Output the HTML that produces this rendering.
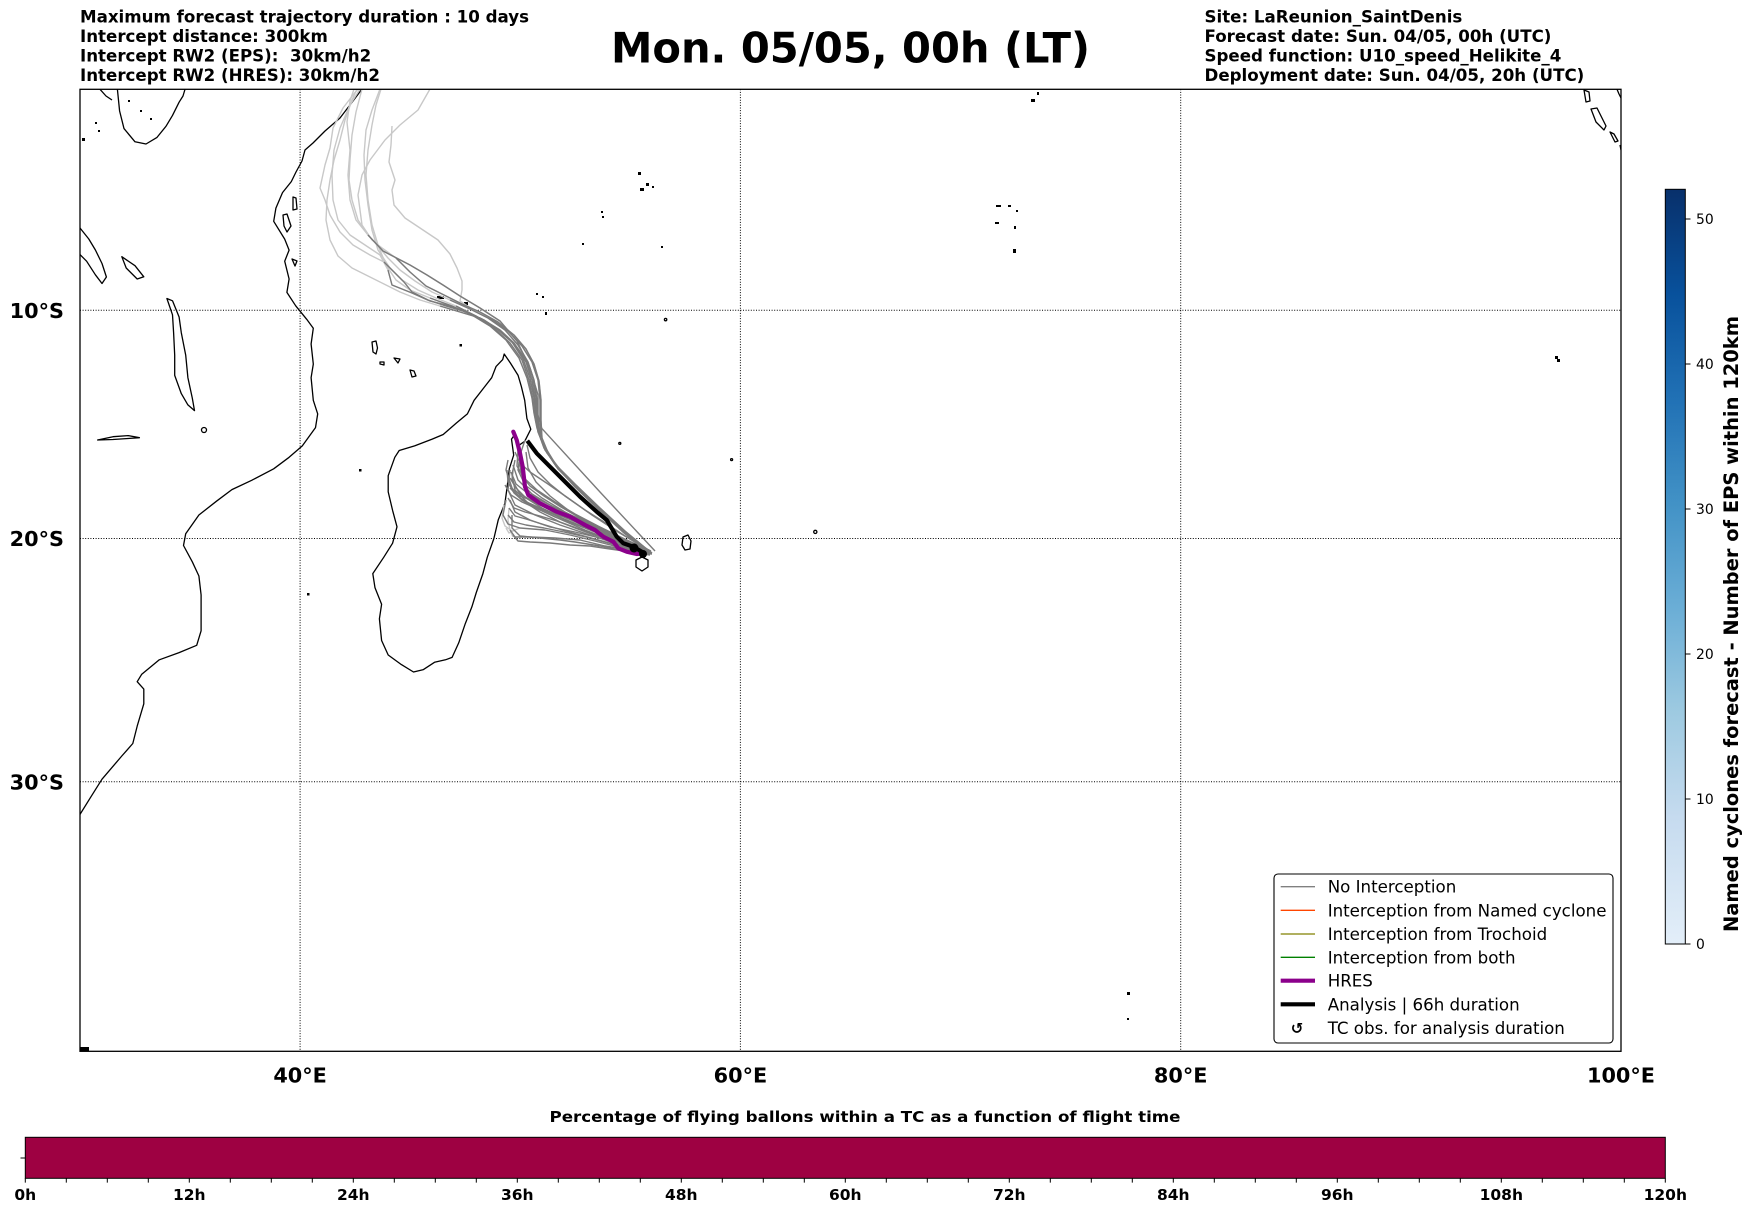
<!DOCTYPE html>
<html><head><meta charset="utf-8"><style>
html,body{margin:0;padding:0;background:#fff;}
svg{display:block;}
text{font-family:"DejaVu Sans","Liberation Sans",sans-serif;fill:#000;}
.b{font-weight:bold;}
</style></head><body>
<svg width="1752" height="1213" viewBox="0 0 1752 1213" xmlns="http://www.w3.org/2000/svg">
<defs>
<linearGradient id="blues" x1="0" y1="1" x2="0" y2="0">
<stop offset="0" stop-color="#e3eef9"/>
<stop offset="0.028" stop-color="#deebf7"/>
<stop offset="0.167" stop-color="#c6dbef"/>
<stop offset="0.306" stop-color="#9ecae1"/>
<stop offset="0.444" stop-color="#6baed6"/>
<stop offset="0.583" stop-color="#4292c6"/>
<stop offset="0.722" stop-color="#2171b5"/>
<stop offset="0.861" stop-color="#08519c"/>
<stop offset="1" stop-color="#08306b"/>
</linearGradient>
<clipPath id="mapclip"><rect x="80" y="89.3" width="1541" height="962"/></clipPath>
</defs>
<rect width="1752" height="1213" fill="#fff"/>

<!-- header texts -->
<g class="b" font-size="16.67" style="white-space:pre">
<text x="80" y="22.5" font-weight="bold">Maximum forecast trajectory duration : 10 days</text>
<text x="80" y="42" font-weight="bold">Intercept distance: 300km</text>
<text x="80" y="61.5" font-weight="bold" xml:space="preserve">Intercept RW2 (EPS):  30km/h2</text>
<text x="80" y="81" font-weight="bold">Intercept RW2 (HRES): 30km/h2</text>
<text x="1204.5" y="22.5" font-weight="bold">Site: LaReunion_SaintDenis</text>
<text x="1204.5" y="42" font-weight="bold">Forecast date: Sun. 04/05, 00h (UTC)</text>
<text x="1204.5" y="61.5" font-weight="bold">Speed function: U10_speed_Helikite_4</text>
<text x="1204.5" y="81" font-weight="bold">Deployment date: Sun. 04/05, 20h (UTC)</text>
</g>
<text x="611" y="62.3" font-size="41.67" font-weight="bold" textLength="479" lengthAdjust="spacingAndGlyphs">Mon. 05/05, 00h (LT)</text>

<!-- map content -->
<g clip-path="url(#mapclip)">
<g fill="none" stroke="#000" stroke-width="1.3" stroke-linejoin="round">
<path d="M361.8,89.3 L353,101 L340,118 L325,131 L313,143 L305,150 L302,161 L296,172 L291.3,181.6 L282.5,192.6 L275.9,208.1 L273.7,221.3 L284.7,239.1 L289.1,250.1 L284.7,261.2 L289.1,279 L286.9,292.4 L295.7,305.8 L306.7,319.3 L313.3,328.2 L311.1,344 L313.3,364.1 L311.1,377.7 L313.3,400.3 L317.7,413.9 L315.5,427.6 L302.3,445.9 L289.1,457.3 L273.7,468.8 L251.7,480.3 L231.9,489.6 L216.5,501.2 L198.9,515 L185.7,533.8 L183.5,545.5 L192.3,561.8 L198.9,576 L201.1,594.9 L201.1,616.4 L201.1,630.8 L196.7,645.3 L179.1,652.6 L159.3,659.8 L141.6,674.4 L137.2,681.7 L143.8,689.1 L143.8,703.8 L137.2,726.1 L132.8,743.5 L121.8,756 L102,779.2 L91,796.7 L80,814.4"/>
<path d="M504.2,354 L510.3,362.9 L518.1,375.4 L521.4,386.7 L524.7,400.3 L526.9,418.5 L530.8,429.2 L524.7,441.3 L518.1,445.9 L514.8,434.5 L511.5,439.1 L513.7,455.1 L509.3,468.8 L507.1,487.3 L504.9,503.4 L498.3,519.7 L493.9,538.5 L487.3,557.2 L482.9,573.6 L476.3,592.5 L471.9,606.8 L465.3,623.6 L458.7,642.9 L452.1,657.4 L445.5,659.8 L434.5,662.3 L423.4,669.6 L413.5,672 L401.4,664.6 L388.2,655 L381.6,640.5 L379.4,618.8 L381.6,604.3 L375,587.8 L372.8,573.6 L383.8,557.2 L392.6,543.2 L397,526.8 L392.6,510.4 L388.2,491.9 L388.2,475.7 L394.8,457.3 L399.2,450.5 L414.6,445.9 L432.2,439.1 L443.2,434.5 L456.4,423 L467.4,413.9 L474.1,400.3 L482.9,389 L491.7,377.7 L496.1,366.4 L502.7,359.6 Z"/>
<path d="M117.4,89.3 L119.6,111 L124,128.6 L135,141.8 L146,144 L157,137.4 L165.9,126.4 L172.5,115.4 L179.1,102.2 L183,96 L185,89.3"/>
<path d="M100,89.3 L106,96 L112,100"/>
<path d="M80,228 L88.8,239 L95.4,250 L102,263.5 L106.4,277 L102,283.5 L95.4,274.8 L86.6,261.2 L80,254.6"/>
<path d="M121.8,256.7 L135,265.7 L143.8,276.8 L137.2,279 L126.2,268 Z"/>
<path d="M166.9,298.5 L172.5,314.8 L173.6,332.7 L174.7,355.1 L174.7,375.4 L181.3,393.6 L187.9,404.9 L194.5,410.6 L192.3,398.1 L187.9,377.7 L185.7,355.1 L181.3,332.7 L179.1,317 L172.5,300.8 Z"/>
<circle cx="204" cy="430" r="2.5"/>
<path d="M97.6,440 L113,436.7 L128.4,435.6 L139.4,437.7 L128,438.5 L113,439.5 Z"/>
<path d="M372,342 L376,341 L377.5,348 L376,354 L373,352 Z"/>
<path d="M380,362 L384,362 L384,365 L380,364 Z"/>
<path d="M394,358 L400,359 L398,363 Z"/>
<path d="M410,370 L414,371 L416,376 L412,377 Z"/>
<path d="M283,215 L287,214 L291,226 L287,232 L284,226 Z"/>
<path d="M293,197 L296,198 L297,209 L293,210 Z"/>
<path d="M292,259 L297,261 L295,266 Z"/>
<path d="M636,560 L642,557 L648,560 L648,567 L642,571 L636,567 Z"/>
<path d="M683,537 L688,535 L691,541 L690,549 L685,550 L682,545 Z"/>
<circle cx="815.3" cy="531.9" r="1.6"/>
<circle cx="731.6" cy="459.6" r="1"/>
<circle cx="619.8" cy="443.4" r="1"/>
<circle cx="665.6" cy="319.6" r="1.2"/>
<path d="M1617,89.3 L1619,94 L1621,98"/>
<path d="M1584,90 L1589,92 L1590,101 L1586,102 Z"/>
<path d="M1591,109 L1597,108 L1606,126 L1604,130 L1596,122 Z"/>
<path d="M1610,132 L1614,134 L1618,141 L1615,142 Z"/>
<path d="M1620,145 L1621,150"/>
</g>
<g fill="#000">
<rect x="437" y="296" width="7" height="3"/>
<rect x="464" y="302" width="4" height="3"/>
<rect x="459.5" y="344" width="2.5" height="2.5"/>
<rect x="359" y="469" width="2.5" height="2.5"/>
<rect x="307" y="593" width="2.5" height="2.5"/>
<rect x="536" y="293" width="2" height="2"/>
<rect x="542" y="296" width="2" height="2"/>
<rect x="545" y="312" width="2" height="3"/>
<rect x="638" y="172" width="3" height="3"/>
<rect x="640" y="188" width="4" height="3"/>
<rect x="646" y="183" width="3" height="3"/>
<rect x="652" y="186" width="2" height="2"/>
<rect x="601" y="211" width="2" height="2"/>
<rect x="602" y="216" width="2" height="2"/>
<rect x="582" y="243" width="2" height="2"/>
<rect x="661" y="246" width="2" height="2"/>
<rect x="996" y="205" width="5" height="2"/>
<rect x="1008" y="205" width="3" height="2"/>
<rect x="1016" y="210" width="2" height="2"/>
<rect x="995" y="222" width="4" height="2"/>
<rect x="1014" y="226" width="2" height="3"/>
<rect x="1013" y="249" width="3" height="4"/>
<rect x="1031" y="99" width="4" height="3"/>
<rect x="1037" y="92" width="2" height="3"/>
<rect x="1555" y="356" width="3" height="3"/>
<rect x="1557" y="359" width="3" height="3"/>
<rect x="1127" y="992" width="3" height="3"/>
<rect x="1127" y="1018" width="2" height="2"/>
<rect x="80" y="1047" width="9" height="4"/>
<rect x="140" y="110" width="2" height="2"/>
<rect x="150" y="118" width="2" height="2"/>
<rect x="128" y="100" width="2" height="2"/>
<rect x="95" y="122" width="2" height="2"/>
<rect x="98" y="130" width="2" height="2"/>
<rect x="82" y="138" width="3" height="3"/>
</g>

<g stroke="#000" stroke-width="1" stroke-dasharray="1 1.6" fill="none">
<path d="M300.1,89.3V1051.3M740.4,89.3V1051.3M1180.7,89.3V1051.3"/>
<path d="M80,310.3H1621M80,538.5H1621M80,781.8H1621"/>
</g>

<g fill="none" stroke="#c8c8c8" stroke-width="1.4" stroke-linejoin="round">
<polyline points="650,552 626,533 601,510 577,487 557,467 545,450 539,433 538,418 537,400 534,380 528,362 518,345 505,330 488,318 470,309 450,300 432,292 415,281 400,270 388,258 378,246 368,235 358,220 352,200 349,180 350,160 352,135 356,112 362,89"/>
<polyline points="648,551 623,531 598,508 574,485 555,464 544,446 538,430 535,416 533,400 529,380 522,360 510,343 494,328 476,316 456,306 436,298 418,290 402,280 390,268 378,250 372,230 368,205 365,180 364,155 366,130 372,110 380,89"/>
<polyline points="651,553 628,535 604,513 580,490 560,470 547,453 541,436 540,420 540,400 538,380 532,362 522,346 508,331 490,318 472,309 460,301 462,290 462,281 457,268 450,254 438,240 420,228 405,218 394,205 392,190 395,180 389,162 391,145 392,126"/>
<polyline points="649,552 625,532 600,509 576,486 556,466 545,449 538,432 536,417 535,400 532,380 526,362 515,345 500,331 484,320 466,312 446,306 428,300 412,292 404,282 396,274 384,262 370,255 353,245 340,232 330,215 325,200 320,188 325,165 330,148 333,128 343,108 353,95 358,89"/>
<polyline points="650,553 627,534 602,512 578,489 558,469 546,451 540,434 538,418 538,395 530,368 517,341 500,321 480,308 460,296 443,285 427,275 410,265 383,251 368,235 356,220 350,200 348,175 350,150 347,122 350,101 354,89"/>
<polyline points="652,553 630,536 606,514 582,492 562,472 549,455 542,438 541,420 541,400 539,381 534,364 526,349 514,335 498,322 480,312 462,304 444,295 426,286 410,272 396,258 382,248 372,240 362,225 360,210 358,195 362,175 370,160 385,140 400,125 418,110 430,89"/>
<polyline points="647,550 622,530 597,507 573,484 554,463 543,445 537,428 534,413 532,398 527,378 519,358 506,340 490,326 472,315 452,306 430,298 410,290 396,280 386,265 378,245 372,225 368,200 366,175 368,150 372,125 376,105 381,89"/>
<polyline points="648,552 624,533 599,510 575,487 556,466 544,448 538,431 536,415 534,398 530,378 523,359 512,342 497,329 480,318 460,312 440,306 420,300 400,292 384,284 368,276 352,268 338,256 330,240 326,220 327,200 330,180 334,160 340,140 345,120 352,100 357,89"/>
<polyline points="649,551 625,531 600,508 576,485 556,465 545,447 539,430 537,414 536,398 533,378 526,360 514,343 500,330 482,319 462,310 446,305 430,301 412,293 392,285 388,270 380,255 365,245 350,235 338,220 333,200 332,175 334,150 340,128 350,105 360,89"/>
<polyline points="520,528 512,531 505,526 502,518 504,505"/>
<polyline points="513,537 510,530 508,520 509,508"/>
<polyline points="515,530 509,533 506,528"/>
</g>
<g fill="none" stroke="#7a7a7a" stroke-width="1.4" stroke-linejoin="round">
<polyline points="650,552 626,533 601,510 577,487 557,467 545,450 539,433 538,418 537,400 534,380 528,362 518,345 505,330 488,318 470,309 450,300"/>
<polyline points="648,551 623,531 598,508 574,485 555,464 544,446 538,430 535,416 533,400 529,380 522,360 510,343 494,328 476,316 456,306"/>
<polyline points="651,553 628,535 604,513 580,490 560,470 547,453 541,436 540,420 540,400 538,380 532,362 522,346 508,331 490,318"/>
<polyline points="649,552 625,532 600,509 576,486 556,466 545,449 538,432 536,417 535,400 532,380 526,362 515,345 500,331 484,320 466,312 446,306 428,300 412,292 404,282 396,274 384,262"/>
<polyline points="650,553 627,534 602,512 578,489 558,469 546,451 540,434 538,418 538,395 530,368 517,341 500,321 480,308 460,296 443,285 427,275 410,265 383,251 368,235"/>
<polyline points="652,553 630,536 606,514 582,492 562,472 549,455 542,438 541,420 541,400 539,381 534,364 526,349 514,335 498,322 480,312 462,304 444,295 426,286 410,272 396,258"/>
<polyline points="647,550 622,530 597,507 573,484 554,463 543,445 537,428 534,413 532,398 527,378 519,358 506,340 490,326 472,315 452,306 430,298"/>
<polyline points="648,552 624,533 599,510 575,487 556,466 544,448 538,431 536,415 534,398 530,378 523,359 512,342 497,329 480,318 460,312 440,306"/>
<polyline points="649,551 625,531 600,508 576,485 556,465 545,447 539,430 537,414 536,398 533,378 526,360 514,343 500,330 482,319 462,310 446,305 430,301 412,293 392,285 388,270"/>
<polyline points="655,551 600,492 541.7,428.3 537,412 535,400"/>
<polyline points="650,553 620,545 590,535 560,525 535,515 515,505 508,490 510,470"/>
<polyline points="648,551 615,540 585,528 555,517 530,505 515,490 512,475 515,460"/>
<polyline points="646,550 612,536 582,522 555,508 532,494 518,480 513,465"/>
<polyline points="650,552 618,542 588,532 560,522 540,512 522,500 512,488 506,470 508,460"/>
<polyline points="649,554 622,548 595,541 570,535 545,530 520,528 508,524 503,515 506,500"/>
<polyline points="651,553 625,546 600,538 575,532 550,527 530,520 515,512 510,500"/>
<polyline points="647,549 618,532 592,515 568,498 548,484 530,472 520,463 515,452"/>
<polyline points="650,552 620,540 592,526 565,512 542,498 525,485 518,470 520,455 525,440"/>
<polyline points="652,553 630,550 605,546 580,540 555,538 530,537 515,537 510,530"/>
<polyline points="650,555 625,551 600,546 575,542 560,540 540,538 520,536 512,528 512,515"/>
<polyline points="646,551 615,538 590,524 568,510 550,496 536,482 528,468 526,452"/>
<polyline points="649,550 622,538 598,526 575,514 555,502 537,490 524,478 517,466 518,450"/>
<polyline points="648,552 628,546 606,538 585,530 562,520 540,510 522,502 511,495 505,485"/>
<polyline points="651,552 626,543 601,533 578,523 556,513 536,503 520,494 512,480 513,470"/>
<polyline points="645,548 625,536 604,522 585,510 565,496 550,484 538,472 530,458 527,445"/>
<polyline points="650,551 632,546 612,540 594,535 575,528 557,521 540,516 525,512 514,508 508,498"/>
<polyline points="652,554 632,552 610,549 590,546 570,545 550,543 530,542 518,541 513,535"/>
<polyline points="648,550 624,540 600,529 578,519 558,509 540,500 526,492 516,484 511,472"/>
<polyline points="650,553 628,544 606,535 584,527 562,518 542,508 526,498 516,488 510,478"/>
<polyline points="647,551 622,541 598,531 576,522 556,514 538,507 522,500 514,493 508,482 507,470"/>
<polyline points="649,552 627,542 604,530 582,519 561,507 544,496 530,486 522,476 519,462"/>
<polyline points="651,551 629,541 606,530 585,521 564,512 545,505 528,499 517,495 510,488"/>
<polyline points="650,554 630,549 608,543 586,537 564,532 544,528 526,525 514,522 508,515"/>
<polyline points="651,552 630,545 610,538 590,530 570,522 550,513 532,505 520,498 512,490"/>
<polyline points="649,553 628,548 606,542 584,536 562,530 542,524 526,519 515,516 509,508"/>
</g>
<polyline fill="none" stroke="#8b008b" stroke-width="4.2" stroke-linejoin="round" stroke-linecap="round" points="513.3,431.7 516.7,440 520,453.3 522.7,466.7 525,486.7 528.3,495 540,503.3 556.7,511.7 570,516.7 585,525 595,530 603.3,536.7 613.3,541.7 618.3,548.3 626.7,551.7 636.7,554 643.3,553.3"/>
<polyline fill="none" stroke="#000" stroke-width="4.2" stroke-linejoin="round" points="527.3,440.7 536.7,453.3 550,466.7 563.3,480 580,496.7 596.7,511.7 606.7,520 611.7,528.3 616.7,536.7 623.3,543.3 633.3,546.7 641.7,551.7 645,555"/>
<circle cx="634" cy="548" r="4.5" fill="#000"/>
<circle cx="643" cy="554" r="4" fill="#000"/>
</g>

<rect x="80" y="89.3" width="1541" height="962" fill="none" stroke="#000" stroke-width="1.3"/>

<g font-size="20.8" font-weight="bold">
<text x="64" y="317.9" text-anchor="end" font-weight="bold">10°S</text>
<text x="64" y="546.1" text-anchor="end" font-weight="bold">20°S</text>
<text x="64" y="789.4" text-anchor="end" font-weight="bold">30°S</text>
<text x="300.1" y="1082.7" text-anchor="middle" font-weight="bold">40°E</text>
<text x="740.4" y="1082.7" text-anchor="middle" font-weight="bold">60°E</text>
<text x="1180.7" y="1082.7" text-anchor="middle" font-weight="bold">80°E</text>
<text x="1621" y="1082.7" text-anchor="middle" font-weight="bold">100°E</text>
</g>

<rect x="1274" y="874" width="339" height="169" rx="4" ry="4" fill="#fff" stroke="#000" stroke-width="1.1"/>
<g stroke-width="1.3">
<line x1="1280.7" y1="886.7" x2="1315" y2="886.7" stroke="#808080"/>
<line x1="1280.7" y1="910.3" x2="1315" y2="910.3" stroke="#ff4500"/>
<line x1="1280.7" y1="934" x2="1315" y2="934" stroke="#808000"/>
<line x1="1280.7" y1="957.3" x2="1315" y2="957.3" stroke="#008000"/>
<line x1="1280.7" y1="980.7" x2="1315" y2="980.7" stroke="#8b008b" stroke-width="4.2"/>
<line x1="1280.7" y1="1004.3" x2="1315" y2="1004.3" stroke="#000" stroke-width="4.2"/>
</g>
<text x="1297" y="1033.5" font-size="15" font-weight="bold" text-anchor="middle">↺</text>
<g font-size="16.67">
<text x="1327.7" y="892.7">No Interception</text>
<text x="1327.7" y="916.3">Interception from Named cyclone</text>
<text x="1327.7" y="940">Interception from Trochoid</text>
<text x="1327.7" y="963.3">Interception from both</text>
<text x="1327.7" y="986.7">HRES</text>
<text x="1327.7" y="1010.3">Analysis | 66h duration</text>
<text x="1327.7" y="1034">TC obs. for analysis duration</text>
</g>

<rect x="1665.3" y="189.3" width="20" height="754.7" fill="url(#blues)" stroke="#000" stroke-width="1"/>
<g stroke="#000" stroke-width="1">
<path d="M1685.3,944H1690.5M1685.3,799H1690.5M1685.3,654H1690.5M1685.3,509H1690.5M1685.3,364H1690.5M1685.3,219H1690.5"/>
</g>
<g font-size="13.9">
<text x="1696" y="949">0</text>
<text x="1696" y="804">10</text>
<text x="1696" y="659">20</text>
<text x="1696" y="514">30</text>
<text x="1696" y="369">40</text>
<text x="1696" y="224">50</text>
</g>
<text transform="translate(1738,624) rotate(-90)" text-anchor="middle" font-size="19.44" font-weight="bold" textLength="616" lengthAdjust="spacingAndGlyphs">Named cyclones forecast - Number of EPS within 120km</text>

<text x="865" y="1122" text-anchor="middle" font-size="15.28" font-weight="bold" textLength="631" lengthAdjust="spacingAndGlyphs">Percentage of flying ballons within a TC as a function of flight time</text>
<rect x="25.3" y="1137.3" width="1640" height="41" fill="#9e0142" stroke="#000" stroke-width="1"/>
<path d="M20.5,1158H25.3" stroke="#000" stroke-width="1"/>
<path stroke="#000" stroke-width="1" d="M25.3,1178.3v4.3M66.3,1178.3v4.3M107.3,1178.3v4.3M148.3,1178.3v4.3M189.3,1178.3v4.3M230.3,1178.3v4.3M271.3,1178.3v4.3M312.3,1178.3v4.3M353.3,1178.3v4.3M394.3,1178.3v4.3M435.3,1178.3v4.3M476.3,1178.3v4.3M517.3,1178.3v4.3M558.3,1178.3v4.3M599.3,1178.3v4.3M640.3,1178.3v4.3M681.3,1178.3v4.3M722.3,1178.3v4.3M763.3,1178.3v4.3M804.3,1178.3v4.3M845.3,1178.3v4.3M886.3,1178.3v4.3M927.3,1178.3v4.3M968.3,1178.3v4.3M1009.3,1178.3v4.3M1050.3,1178.3v4.3M1091.3,1178.3v4.3M1132.3,1178.3v4.3M1173.3,1178.3v4.3M1214.3,1178.3v4.3M1255.3,1178.3v4.3M1296.3,1178.3v4.3M1337.3,1178.3v4.3M1378.3,1178.3v4.3M1419.3,1178.3v4.3M1460.3,1178.3v4.3M1501.3,1178.3v4.3M1542.3,1178.3v4.3M1583.3,1178.3v4.3M1624.3,1178.3v4.3M1665.3,1178.3v4.3"/>
<g font-size="15.5" font-weight="bold" text-anchor="middle">
<text x="25.3" y="1200" font-weight="bold">0h</text>
<text x="189.3" y="1200" font-weight="bold">12h</text>
<text x="353.3" y="1200" font-weight="bold">24h</text>
<text x="517.3" y="1200" font-weight="bold">36h</text>
<text x="681.3" y="1200" font-weight="bold">48h</text>
<text x="845.3" y="1200" font-weight="bold">60h</text>
<text x="1009.3" y="1200" font-weight="bold">72h</text>
<text x="1173.3" y="1200" font-weight="bold">84h</text>
<text x="1337.3" y="1200" font-weight="bold">96h</text>
<text x="1501.3" y="1200" font-weight="bold">108h</text>
<text x="1665.3" y="1200" font-weight="bold">120h</text>
</g>
</svg>
</body></html>
